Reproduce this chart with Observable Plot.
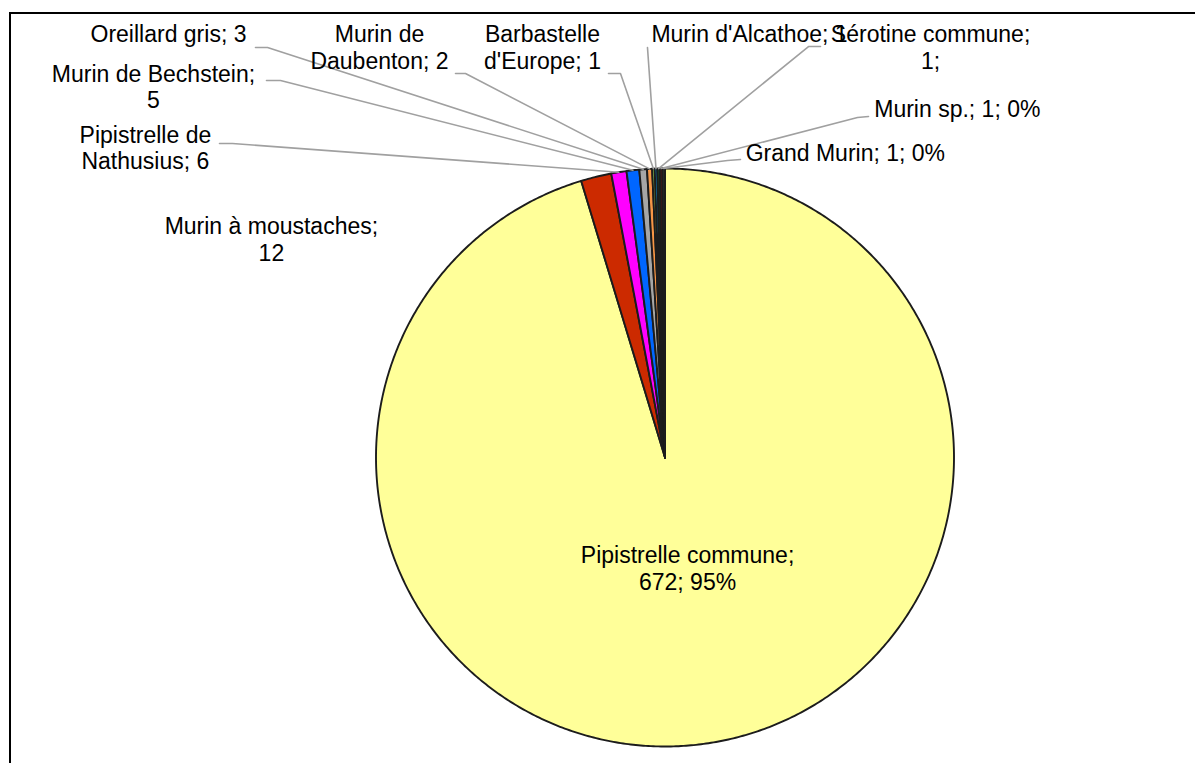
<!DOCTYPE html>
<html>
<head>
<meta charset="utf-8">
<script src="https://cdn.jsdelivr.net/npm/d3@7"></script>
<script src="https://cdn.jsdelivr.net/npm/@observablehq/plot@0.6"></script>
<style>
  html, body { margin: 0; padding: 0; background: #fff; overflow: hidden; }
  #wrap { position: relative; width: 1195px; height: 763px; overflow: hidden; }
  #frame { position: absolute; left: 9px; top: 12px; width: 1400px; height: 900px;
           border-top: 2px solid #000; border-left: 2px solid #000; pointer-events: none; }
</style>
</head>
<body>
<div id="wrap"><div id="chart"></div><div id="frame"></div></div>
<script>
// ---- data ----
const species = [
  "Pipistrelle commune", "Murin à moustaches", "Pipistrelle de Nathusius",
  "Murin de Bechstein", "Oreillard gris", "Murin de Daubenton",
  "Barbastelle d'Europe", "Murin d'Alcathoe", "Sérotine commune",
  "Murin sp.", "Grand Murin"
];
const counts = [672, 12, 6, 5, 3, 2, 1, 1, 1, 1, 1];
const colors = [
  "#FFFF99", "#CC2A00", "#FF00FF", "#0066FF", "#A6A6A6", "#F79646",
  "#92D050", "#00A0F0", "#1E4D1E", "#6B1414", "#2E2E2E"
];
const labelTexts = [
  "Pipistrelle commune;\n672; 95%",
  "Murin à moustaches;\n12",
  "Pipistrelle de\nNathusius; 6",
  "Murin de Bechstein;\n5",
  "Oreillard gris; 3",
  "Murin de\nDaubenton; 2",
  "Barbastelle\nd'Europe; 1",
  "Murin d'Alcathoe; 1",
  "Sérotine commune;\n1;",
  "Murin sp.; 1; 0%",
  "Grand Murin; 1; 0%"
];

// ---- layout (pie-radius units, origin = pie centre, y up) ----
const CX = 664.5, CY = 457, R = 289, W = 1195, H = 763;
const labelPos = [
  [0.078, -0.382, "middle"],
  [-1.362, 0.756, "middle"],
  [-1.798, 1.073, "middle"],
  [-1.770, 1.284, "middle"],
  [-1.718, 1.467, "middle"],
  [-0.988, 1.420, "middle"],
  [-0.424, 1.420, "middle"],
  [-0.047, 1.467, "start"],
  [0.919, 1.420, "middle"],
  [0.724, 1.208, "start"],
  [0.279, 1.055, "start"]
];
const leaderElbows = [
  null, null,
  [[-1.5415, 1.0865], [-1.4965, 1.0865]],
  [[-1.3789, 1.3045], [-1.3304, 1.3045]],
  [[-1.4170, 1.4187], [-1.3754, 1.4187]],
  [[-0.7249, 1.3287], [-0.6903, 1.3287]],
  [[-0.1955, 1.3287], [-0.1540, 1.3287]],
  [[-0.0606, 1.4187]],
  [[0.5381, 1.4221], [0.4965, 1.4221]],
  [[0.7042, 1.1799], [0.6661, 1.1765]],
  [[0.2612, 1.0311], [0.2163, 1.0277]]
];

// ---- build ----
const data = species.map((name, i) => ({name, count: counts[i], color: colors[i]}));
const arcs = d3.pie().sort(null).value(d => d.count)(data);

const slicePts = [];
arcs.forEach(a => {
  const n = Math.max(2, Math.ceil((a.endAngle - a.startAngle) / (Math.PI / 360)));
  slicePts.push({name: a.data.name, x: 0, y: 0});
  for (let i = 0; i <= n; i++) {
    const t = a.startAngle + (a.endAngle - a.startAngle) * i / n;
    slicePts.push({name: a.data.name, x: Math.sin(t), y: Math.cos(t)});
  }
});

const leaderPts = [];
arcs.forEach((a, i) => {
  const el = leaderElbows[i];
  if (!el) return;
  el.forEach(([x, y]) => leaderPts.push({name: a.data.name, x, y}));
  const m = (a.startAngle + a.endAngle) / 2;
  leaderPts.push({name: a.data.name, x: Math.sin(m), y: Math.cos(m)});
});

const labels = arcs.map((a, i) => ({
  name: a.data.name, text: labelTexts[i],
  x: labelPos[i][0], y: labelPos[i][1], anchor: labelPos[i][2]
}));

const font = "'Liberation Sans', Arial, sans-serif";
const textOpts = {x: "x", y: "y", text: "text", fontSize: 23, fill: "#000",
  lineHeight: 1.17, lineAnchor: "middle", fontFamily: font};

const chart = Plot.plot({
  width: W, height: H,
  margin: 0,
  style: {fontFamily: font, background: "transparent"},
  x: {domain: [-CX / R, (W - CX) / R], axis: null},
  y: {domain: [(CY - H) / R, CY / R], axis: null},
  color: {domain: species, range: colors},
  marks: [
    Plot.line(slicePts, {x: "x", y: "y", z: "name", fill: "name",
      stroke: "#1c1c1c", strokeWidth: 1.9, curve: "linear-closed"}),
    Plot.line(leaderPts, {x: "x", y: "y", z: "name",
      stroke: "#A0A0A0", strokeWidth: 1.6, curve: "linear"}),
    Plot.text(labels.filter(d => d.anchor === "middle"), {...textOpts, textAnchor: "middle"}),
    Plot.text(labels.filter(d => d.anchor === "start"), {...textOpts, textAnchor: "start"})
  ]
});
document.getElementById("chart").appendChild(chart);
</script>
</body>
</html>
